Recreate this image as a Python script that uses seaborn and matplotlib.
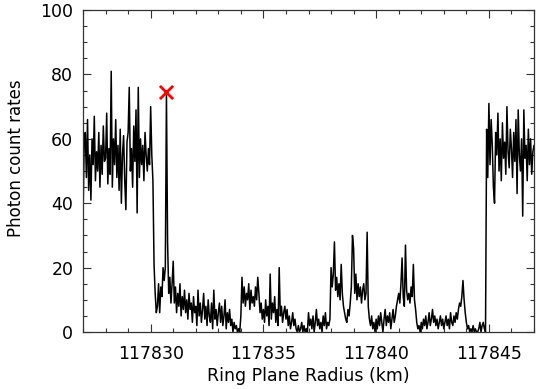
import numpy as np
import pandas as pd
import matplotlib
matplotlib.use("Agg")
import matplotlib.pyplot as plt
from matplotlib.ticker import MultipleLocator
import seaborn as sns

# --- photon counts, read every 0.05 km from 117827.00 to 117847.00 ---
r_start, r_step = 117827.0, 0.05
counts_27 = [35, 58, 62, 48, 66, 44, 55, 41, 60, 52, 67, 47, 56, 50, 62, 45, 58, 49, 64, 53]
counts_28 = [54, 68, 46, 57, 49, 81, 45, 60, 52, 66, 48, 58, 44, 63, 40, 55, 61, 47, 38, 59]
counts_29 = [62, 76, 50, 57, 45, 64, 53, 69, 37, 76, 48, 60, 52, 58, 47, 62, 55, 50, 57, 52]
counts_30 = [70, 55, 47, 21, 12, 6, 8, 15, 6, 14, 11, 20, 16, 20, 74, 28, 12, 17, 9, 15]
counts_31 = [22, 9, 14, 6, 12, 8, 15, 5, 11, 7, 13, 6, 10, 4, 12, 7, 9, 3, 11, 6]
counts_32 = [8, 2, 13, 5, 9, 3, 7, 12, 4, 8, 2, 10, 5, 3, 9, 1, 13, 4, 7, 2]
counts_33 = [6, 9, 3, 8, 2, 5, 10, 1, 6, 3, 7, 2, 4, 0, 3, 1, 2, 0, 1, 0]
counts_34 = [5, 17, 9, 14, 8, 12, 10, 15, 7, 13, 9, 11, 8, 14, 10, 17, 12, 6, 9, 4]
counts_35 = [7, 3, 10, 5, 8, 2, 18, 4, 9, 6, 11, 3, 7, 2, 20, 5, 8, 3, 6, 8]
counts_36 = [4, 7, 2, 5, 1, 3, 6, 2, 4, 1, 0, 2, 0, 1, 3, 0, 2, 0, 1, 0]
counts_37 = [6, 2, 4, 1, 5, 0, 3, 7, 2, 4, 1, 3, 0, 5, 2, 6, 1, 3, 2, 4]
counts_38 = [20, 14, 18, 28, 13, 17, 11, 15, 10, 21, 12, 8, 6, 4, 3, 7, 5, 9, 14, 30]
counts_39 = [26, 12, 18, 10, 15, 11, 14, 9, 13, 15, 10, 12, 31, 8, 4, 2, 5, 1, 3, 0]
counts_40 = [4, 1, 5, 2, 6, 3, 0, 4, 7, 2, 5, 3, 6, 1, 4, 7, 3, 5, 8, 10]
counts_41 = [12, 9, 15, 23, 11, 8, 27, 13, 10, 12, 9, 14, 11, 21, 10, 7, 3, 1, 2, 0]
counts_42 = [3, 1, 4, 2, 5, 1, 3, 6, 2, 4, 7, 3, 5, 2, 4, 1, 3, 5, 2, 4]
counts_43 = [1, 3, 5, 2, 4, 1, 6, 3, 2, 5, 3, 6, 4, 7, 9, 8, 11, 16, 10, 6]
counts_44 = [3, 1, 2, 0, 1, 0, 2, 0, 1, 0, 0, 1, 3, 0, 2, 3, 1, 0, 63, 48]
counts_45 = [71, 52, 66, 58, 45, 40, 62, 55, 68, 50, 60, 47, 65, 54, 59, 49, 70, 56, 51, 63]
counts_46 = [57, 48, 62, 53, 66, 43, 69, 55, 50, 60, 36, 69, 54, 58, 47, 63, 52, 60, 49, 56]
counts_47 = [58]

# marked peak
peak_r = 117830.69
peak_v = 74.5

counts = (counts_27 + counts_28 + counts_29 + counts_30 + counts_31 + counts_32
          + counts_33 + counts_34 + counts_35 + counts_36 + counts_37 + counts_38
          + counts_39 + counts_40 + counts_41 + counts_42 + counts_43 + counts_44
          + counts_45 + counts_46 + counts_47)
radius = r_start + r_step * np.arange(len(counts))
df = pd.DataFrame({"radius": radius, "counts": counts})

# --- style ---
sns.set_style("ticks")
plt.rcParams["font.family"] = ["DejaVu Sans"]
plt.rcParams["text.color"] = "black"
plt.rcParams["axes.labelcolor"] = "black"
plt.rcParams["xtick.labelcolor"] = "black"
plt.rcParams["ytick.labelcolor"] = "black"

fig = plt.figure(figsize=(5.37, 3.89), dpi=100)
ax = fig.add_axes([0.1546, 0.1465, 0.9944 - 0.1546, 0.974 - 0.1465])

sns.lineplot(data=df, x="radius", y="counts", estimator=None, color="black",
             linewidth=1.1, ax=ax)
sns.scatterplot(x=[peak_r], y=[peak_v], marker="x", color="red", s=90,
                linewidth=2, ax=ax, zorder=5)

ax.set_xlim(117827, 117847)
ax.set_ylim(0, 100)
ax.xaxis.set_major_locator(MultipleLocator(5))
ax.xaxis.set_minor_locator(MultipleLocator(1))
ax.yaxis.set_major_locator(MultipleLocator(20))
ax.yaxis.set_minor_locator(MultipleLocator(5))
ax.ticklabel_format(useOffset=False, style="plain", axis="x")

ax.tick_params(which="both", direction="in", top=True, right=True, labelsize=12.5,
               color="#333333", width=0.8, labelcolor="black")
ax.tick_params(which="major", length=6)
ax.tick_params(which="minor", length=3)
ax.tick_params(axis="x", pad=9)
ax.tick_params(axis="y", pad=7)
for s in ax.spines.values():
    s.set_linewidth(0.9)
    s.set_color("#333333")

ax.set_xlabel("Ring Plane Radius (km)", fontsize=12.5, labelpad=3, color="black")
ax.set_ylabel("Photon count rates", fontsize=12, color="black")
ax.yaxis.set_label_coords(-0.128, 0.54)

fig.savefig("out.png", dpi=100)
